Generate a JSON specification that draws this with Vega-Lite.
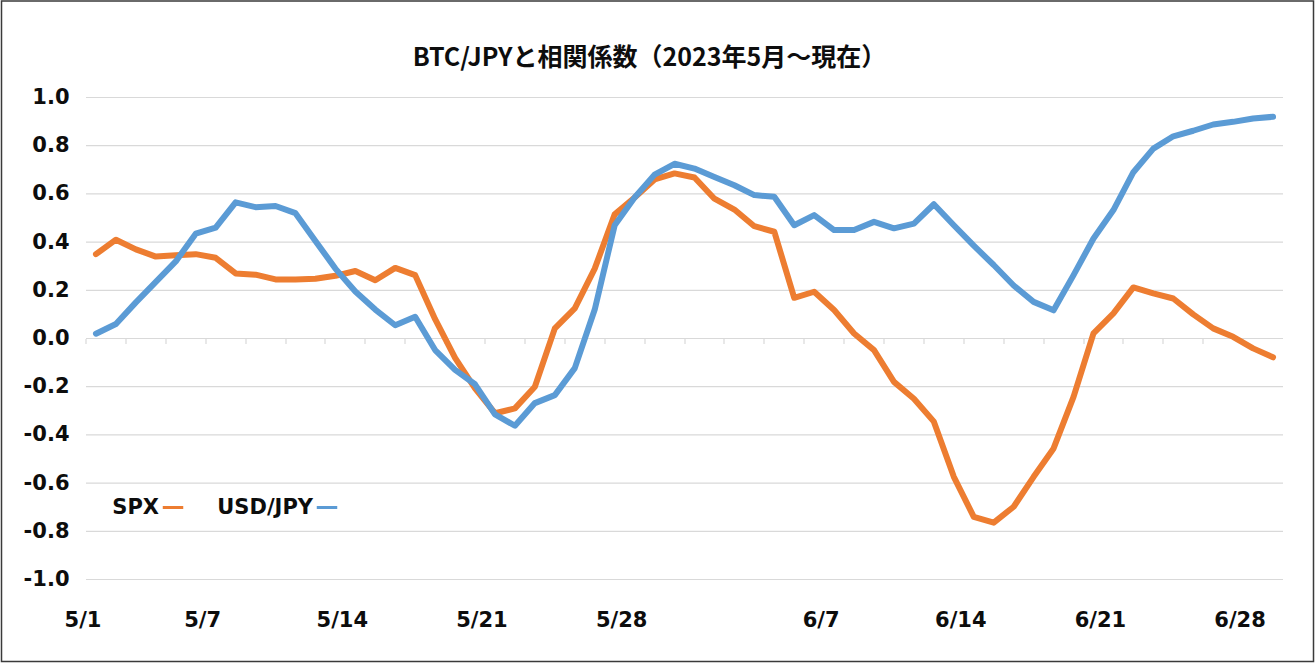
{
  "$schema": "https://vega.github.io/schema/vega-lite/v6.json",
  "autosize": {"type": "none"},
  "width": 1312,
  "height": 660.5,
  "padding": {"left": 1.5, "top": 1, "right": 1.5, "bottom": 1.5},
  "background": "#ffffff",
  "title": {
    "text": "BTC/JPYと相関係数（2023年5月～現在）",
    "anchor": "middle",
    "frame": "group",
    "dx": -8,
    "offset": -70,
    "font": "Noto Sans CJK JP",
    "fontSize": 25,
    "fontWeight": "bold",
    "color": "#0d0d0d"
  },
  "config": {
    "view": {"stroke": "#3a3a3a", "strokeWidth": 1.5},
    "axis": {"labelFont": "DejaVu Sans", "labelFontSize": 21, "labelFontWeight": "bold", "labelColor": "#0d0d0d"}
  },
  "data": {
    "values": [
      {"date": "5/1", "SPX": 0.35, "USD/JPY": 0.02},
      {"date": "5/2", "SPX": 0.41, "USD/JPY": 0.06},
      {"date": "5/3", "SPX": 0.37, "USD/JPY": 0.15},
      {"date": "5/4", "SPX": 0.34, "USD/JPY": 0.235},
      {"date": "5/5", "SPX": 0.345, "USD/JPY": 0.32},
      {"date": "5/6", "SPX": 0.35, "USD/JPY": 0.435},
      {"date": "5/7", "SPX": 0.335, "USD/JPY": 0.46},
      {"date": "5/8", "SPX": 0.27, "USD/JPY": 0.565},
      {"date": "5/9", "SPX": 0.265, "USD/JPY": 0.545},
      {"date": "5/10", "SPX": 0.245, "USD/JPY": 0.55},
      {"date": "5/11", "SPX": 0.245, "USD/JPY": 0.52},
      {"date": "5/12", "SPX": 0.248, "USD/JPY": 0.405},
      {"date": "5/13", "SPX": 0.26, "USD/JPY": 0.29},
      {"date": "5/14", "SPX": 0.28, "USD/JPY": 0.195},
      {"date": "5/15", "SPX": 0.242, "USD/JPY": 0.12},
      {"date": "5/16", "SPX": 0.293, "USD/JPY": 0.055},
      {"date": "5/17", "SPX": 0.263, "USD/JPY": 0.09},
      {"date": "5/18", "SPX": 0.08, "USD/JPY": -0.048},
      {"date": "5/19", "SPX": -0.08, "USD/JPY": -0.13},
      {"date": "5/20", "SPX": -0.207, "USD/JPY": -0.19},
      {"date": "5/21", "SPX": -0.31, "USD/JPY": -0.315},
      {"date": "5/22", "SPX": -0.29, "USD/JPY": -0.362},
      {"date": "5/23", "SPX": -0.2, "USD/JPY": -0.268},
      {"date": "5/24", "SPX": 0.042, "USD/JPY": -0.235},
      {"date": "5/25", "SPX": 0.125, "USD/JPY": -0.123},
      {"date": "5/26", "SPX": 0.29, "USD/JPY": 0.12},
      {"date": "5/27", "SPX": 0.515, "USD/JPY": 0.47},
      {"date": "5/28", "SPX": 0.585, "USD/JPY": 0.585},
      {"date": "5/29", "SPX": 0.66, "USD/JPY": 0.68},
      {"date": "5/30", "SPX": 0.685, "USD/JPY": 0.725},
      {"date": "5/31", "SPX": 0.668, "USD/JPY": 0.705},
      {"date": "6/1", "SPX": 0.58, "USD/JPY": 0.67},
      {"date": "6/2", "SPX": 0.535, "USD/JPY": 0.636},
      {"date": "6/3", "SPX": 0.466, "USD/JPY": 0.595},
      {"date": "6/4", "SPX": 0.443, "USD/JPY": 0.588},
      {"date": "6/5", "SPX": 0.169, "USD/JPY": 0.47},
      {"date": "6/6", "SPX": 0.194, "USD/JPY": 0.512},
      {"date": "6/7", "SPX": 0.118, "USD/JPY": 0.45},
      {"date": "6/8", "SPX": 0.021, "USD/JPY": 0.45},
      {"date": "6/9", "SPX": -0.048, "USD/JPY": 0.484},
      {"date": "6/10", "SPX": -0.18, "USD/JPY": 0.457},
      {"date": "6/11", "SPX": -0.25, "USD/JPY": 0.477},
      {"date": "6/12", "SPX": -0.345, "USD/JPY": 0.557},
      {"date": "6/13", "SPX": -0.574, "USD/JPY": 0.47},
      {"date": "6/14", "SPX": -0.74, "USD/JPY": 0.385},
      {"date": "6/15", "SPX": -0.764, "USD/JPY": 0.305},
      {"date": "6/16", "SPX": -0.698, "USD/JPY": 0.22},
      {"date": "6/17", "SPX": -0.574, "USD/JPY": 0.152},
      {"date": "6/18", "SPX": -0.456, "USD/JPY": 0.117},
      {"date": "6/19", "SPX": -0.242, "USD/JPY": 0.263},
      {"date": "6/20", "SPX": 0.021, "USD/JPY": 0.415},
      {"date": "6/21", "SPX": 0.104, "USD/JPY": 0.533},
      {"date": "6/22", "SPX": 0.212, "USD/JPY": 0.69},
      {"date": "6/23", "SPX": 0.187, "USD/JPY": 0.788},
      {"date": "6/24", "SPX": 0.166, "USD/JPY": 0.839},
      {"date": "6/25", "SPX": 0.1, "USD/JPY": 0.862},
      {"date": "6/26", "SPX": 0.042, "USD/JPY": 0.888},
      {"date": "6/27", "SPX": 0.007, "USD/JPY": 0.899},
      {"date": "6/28", "SPX": -0.041, "USD/JPY": 0.913},
      {"date": "6/29", "SPX": -0.078, "USD/JPY": 0.92}
    ]
  },
  "resolve": {"axis": {"x": "independent"}},
  "layer": [
    {
      "data": {"values": [{"g": -1}, {"g": -0.8}, {"g": -0.6}, {"g": -0.4}, {"g": -0.2}, {"g": 0}, {"g": 0.2}, {"g": 0.4}, {"g": 0.6}, {"g": 0.8}, {"g": 1}]},
      "mark": {"type": "rule", "color": "#D9D9D9", "strokeWidth": 1.2},
      "encoding": {
        "x": {
          "datum": "5/1", "type": "ordinal", "bandPosition": 0, "axis": null,
          "scale": {"type": "band", "paddingInner": 0, "paddingOuter": 0, "range": [84.5, 1281.5]}
        },
        "x2": {"datum": "6/29", "bandPosition": 1},
        "y": {"field": "g", "type": "quantitative", "scale": {"domain": [-1.3402, 1.4004], "nice": false, "zero": false}}
      }
    },
    {
      "transform": [{"fold": ["SPX", "USD/JPY"], "as": ["series", "value"]}],
      "mark": {"type": "line", "opacity": 0},
      "encoding": {
        "x": {
          "field": "date", "type": "ordinal", "sort": null,
          "scale": {"type": "band", "paddingInner": 0, "paddingOuter": 0, "range": [84.5, 1281.5]},
          "axis": {
            "orient": "bottom", "title": null, "offset": -323,
            "values": ["5/1","5/3","5/5","5/7","5/9","5/11","5/13","5/15","5/17","5/19","5/21","5/23","5/25","5/27","5/29","5/31","6/2","6/4","6/6","6/8","6/10","6/12","6/14","6/16","6/18","6/20","6/22","6/24","6/26","6/28"],
            "bandPosition": 0, "labels": false, "grid": false, "domain": false,
            "ticks": true, "tickColor": "#D9D9D9", "tickSize": 5, "tickWidth": 1.2
          }
        },
        "y": {"field": "value", "type": "quantitative"},
        "detail": {"field": "series"}
      }
    },
    {
      "transform": [{"fold": ["SPX", "USD/JPY"], "as": ["series", "value"]}],
      "mark": {"type": "line", "strokeWidth": 6, "strokeJoin": "round", "strokeCap": "round"},
      "encoding": {
        "x": {
          "field": "date", "type": "ordinal", "sort": null,
          "scale": {
            "type": "band", "paddingInner": 0, "paddingOuter": 0, "range": [84.5, 1281.5],
            "domain": ["5/1","5/2","5/3","5/4","5/5","5/6","5/7","5/8","5/9","5/10","5/11","5/12","5/13","5/14","5/15","5/16","5/17","5/18","5/19","5/20","5/21","5/22","5/23","5/24","5/25","5/26","5/27","5/28","5/29","5/30","5/31","6/1","6/2","6/3","6/4","6/5","6/6","6/7","6/8","6/9","6/10","6/11","6/12","6/13","6/14","6/15","6/16","6/17","6/18","6/19","6/20","6/21","6/22","6/23","6/24","6/25","6/26","6/27","6/28","6/29"]
          },
          "axis": {
            "orient": "bottom", "title": null, "offset": -82,
            "values": ["5/1","5/7","5/14","5/21","5/28","6/7","6/14","6/21","6/28"],
            "labelOffset": -13, "labelPadding": 30, "labelAngle": 0,
            "domain": false, "ticks": false, "tickSize": 0, "grid": false
          }
        },
        "y": {
          "field": "value", "type": "quantitative",
          "scale": {"domain": [-1.3402, 1.4004], "nice": false, "zero": false},
          "axis": {
            "title": null, "offset": -84.5,
            "values": [-1, -0.8, -0.6, -0.4, -0.2, 0, 0.2, 0.4, 0.6, 0.8, 1],
            "labelExpr": "replace(format(datum.value, '.1f'), '−', '-')",
            "domain": false, "ticks": false, "tickSize": 0, "labelPadding": 17,
            "grid": false
          }
        },
        "color": {
          "field": "series", "type": "nominal",
          "scale": {"domain": ["SPX", "USD/JPY"], "range": ["#ED7D31", "#5B9BD5"]},
          "legend": {
            "title": null, "orient": "none", "direction": "horizontal",
            "legendX": 159.5, "legendY": 494.5,
            "symbolType": "stroke", "symbolStrokeWidth": 3, "symbolSize": 420,
            "labelFont": "DejaVu Sans", "labelFontSize": 21, "labelFontWeight": "bold", "labelColor": "#0d0d0d",
            "labelAlign": "right", "labelOffset": -26, "columnPadding": 27
          }
        }
      }
    }
  ]
}
